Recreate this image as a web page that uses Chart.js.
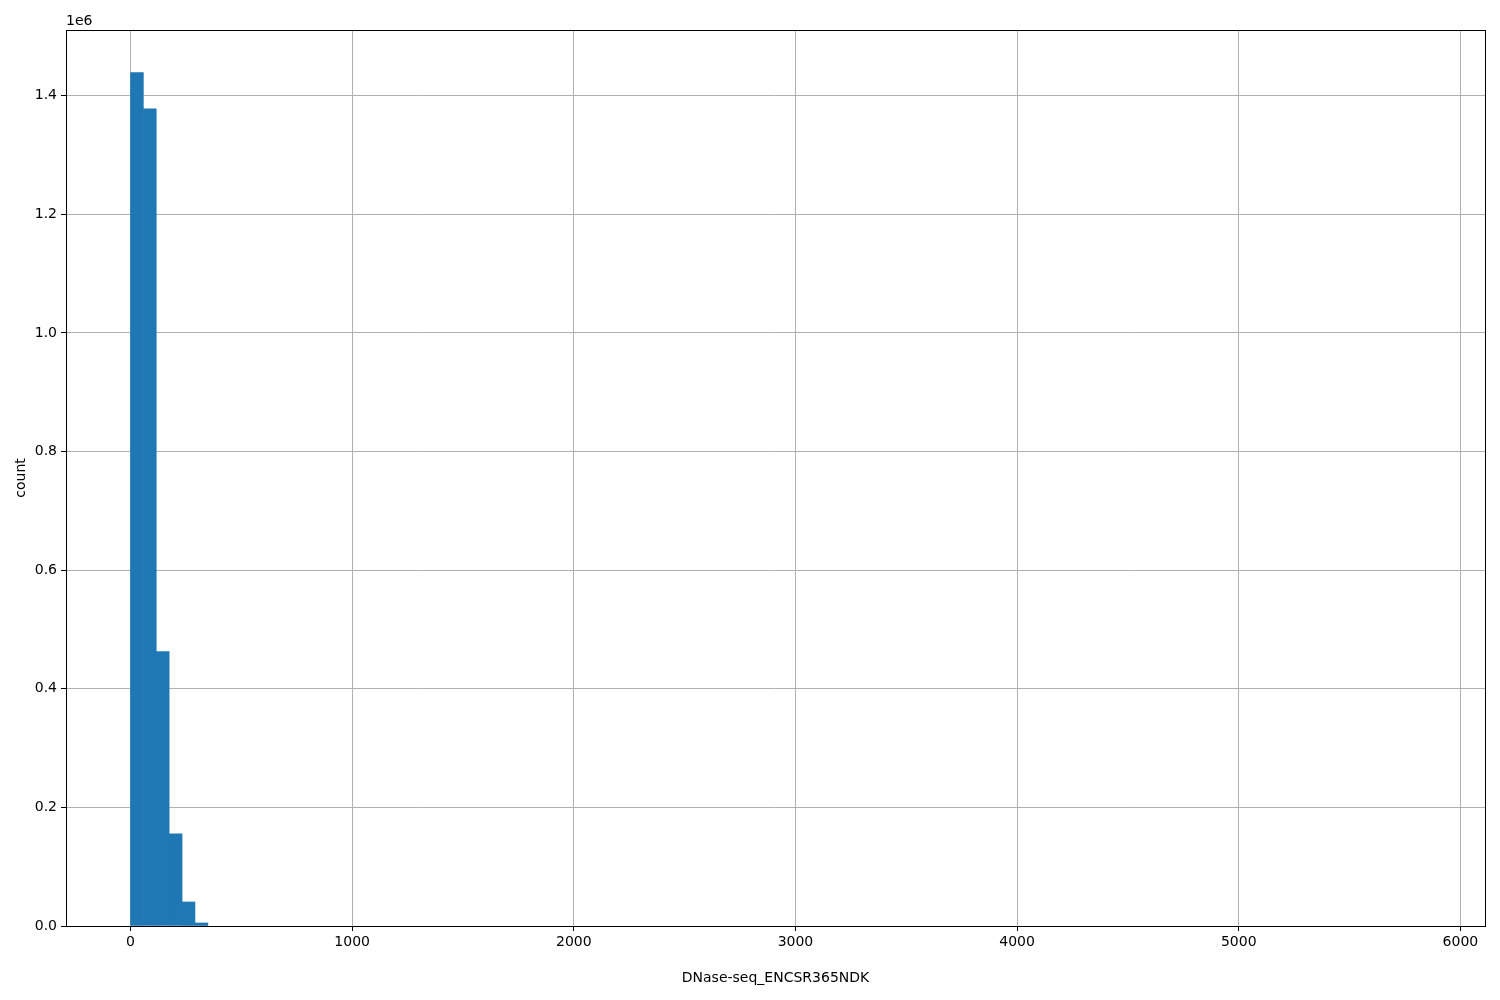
<!DOCTYPE html>
<html>
<head>
<meta charset="utf-8">
<title>DNase-seq_ENCSR365NDK histogram</title>
<script src="https://cdn.jsdelivr.net/npm/chart.js@4/dist/chart.umd.min.js"></script>
<style>
  html, body { margin: 0; padding: 0; background: #fff; }
  canvas { display: block; }
</style>
</head>
<body>
<canvas id="hist" width="1500" height="1000"></canvas>
<script>
// histogram: 100 bins from 0 to ~5820
const binStart = 0;
const binWidth = 58.2;
const counts = [
  1439000, 1378000, 462800, 155400, 40500, 5100, 0, 0, 0, 0,
  0, 0, 0, 0, 0, 0, 0, 0, 0, 0,
  0, 0, 0, 0, 0, 0, 0, 0, 0, 0,
  0, 0, 0, 0, 0, 0, 0, 0, 0, 0,
  0, 0, 0, 0, 0, 0, 0, 0, 0, 0,
  0, 0, 0, 0, 0, 0, 0, 0, 0, 0,
  0, 0, 0, 0, 0, 0, 0, 0, 0, 0,
  0, 0, 0, 0, 0, 0, 0, 0, 0, 0,
  0, 0, 0, 0, 0, 0, 0, 0, 0, 0,
  0, 0, 0, 0, 0, 0, 0, 0, 0, 0
];
const xTicks = [0, 1000, 2000, 3000, 4000, 5000, 6000];
const yTicks = [0, 200000, 400000, 600000, 800000, 1000000, 1200000, 1400000];
const xLabel = "DNase-seq_ENCSR365NDK";
const yLabel = "count";

const FONT = "'DejaVu Sans', sans-serif";

// matplotlib-ish margins (5% each side)
const dataMin = binStart;
const dataMax = binStart + binWidth * counts.length;
const xPad = (dataMax - dataMin) * 0.05;
const yMax = Math.max(...counts) * 1.05;

// zero bins are left out so nothing is drawn for them
const points = counts
  .map((c, i) => ({ x: binStart + (i + 0.5) * binWidth, y: c }))
  .filter(p => p.y > 0);

// frame + offset text
const framePlugin = {
  id: "frame",
  afterDraw(chart){
    const {ctx, chartArea: a} = chart;
    ctx.save();
    ctx.strokeStyle = "#000";
    ctx.lineWidth = 1;
    ctx.strokeRect(Math.round(a.left) + 0.5, Math.round(a.top) + 0.5,
                   Math.round(a.right - a.left), Math.round(a.bottom - a.top));
    ctx.fillStyle = "#000";
    ctx.font = "14px " + FONT;
    ctx.textAlign = "left";
    ctx.textBaseline = "bottom";
    ctx.fillText("1e6", a.left, a.top - 2);
    ctx.restore();
  }
};

new Chart(document.getElementById("hist").getContext("2d"), {
  type: "bar",
  data: {
    datasets: [{
      data: points,
      backgroundColor: "#1f77b4",
      borderWidth: 0,
      barThickness: 12.8,
      barPercentage: 1.0,
      categoryPercentage: 1.0
    }]
  },
  options: {
    responsive: false,
    animation: false,
    layout: { padding: { top: 30, right: 15, left: 0, bottom: 0 } },
    plugins: { legend: { display: false }, tooltip: { enabled: false } },
    scales: {
      x: {
        type: "linear",
        offset: false,
        min: dataMin - xPad,
        max: dataMax + xPad,
        afterBuildTicks(s){ s.ticks = xTicks.map(v => ({ value: v })); },
        afterFit(s){ s.height = 74; },
        grid: { offset: false, color: "#b0b0b0", lineWidth: 1, tickColor: "#000", tickLength: 5, drawOnChartArea: true },
        border: { display: false },
        ticks: { color: "#000", font: { family: FONT, size: 14 }, padding: 3, maxRotation: 0,
                 callback: v => String(v) },
        title: { display: true, text: xLabel, color: "#000", font: { family: FONT, size: 14 },
                 padding: { top: 0, bottom: 13 } }
      },
      y: {
        min: 0,
        max: yMax,
        afterBuildTicks(s){ s.ticks = yTicks.map(v => ({ value: v })); },
        afterFit(s){ s.width = 66; },
        grid: { color: "#b0b0b0", lineWidth: 1, tickColor: "#000", tickLength: 5 },
        border: { display: false },
        ticks: { color: "#000", font: { family: FONT, size: 14 }, padding: 4,
                 callback: v => (v / 1e6).toFixed(1) },
        title: { display: true, text: yLabel, color: "#000", font: { family: FONT, size: 14 },
                 padding: { top: 13, bottom: 0 } }
      }
    }
  },
  plugins: [framePlugin]
});
</script>
</body>
</html>
